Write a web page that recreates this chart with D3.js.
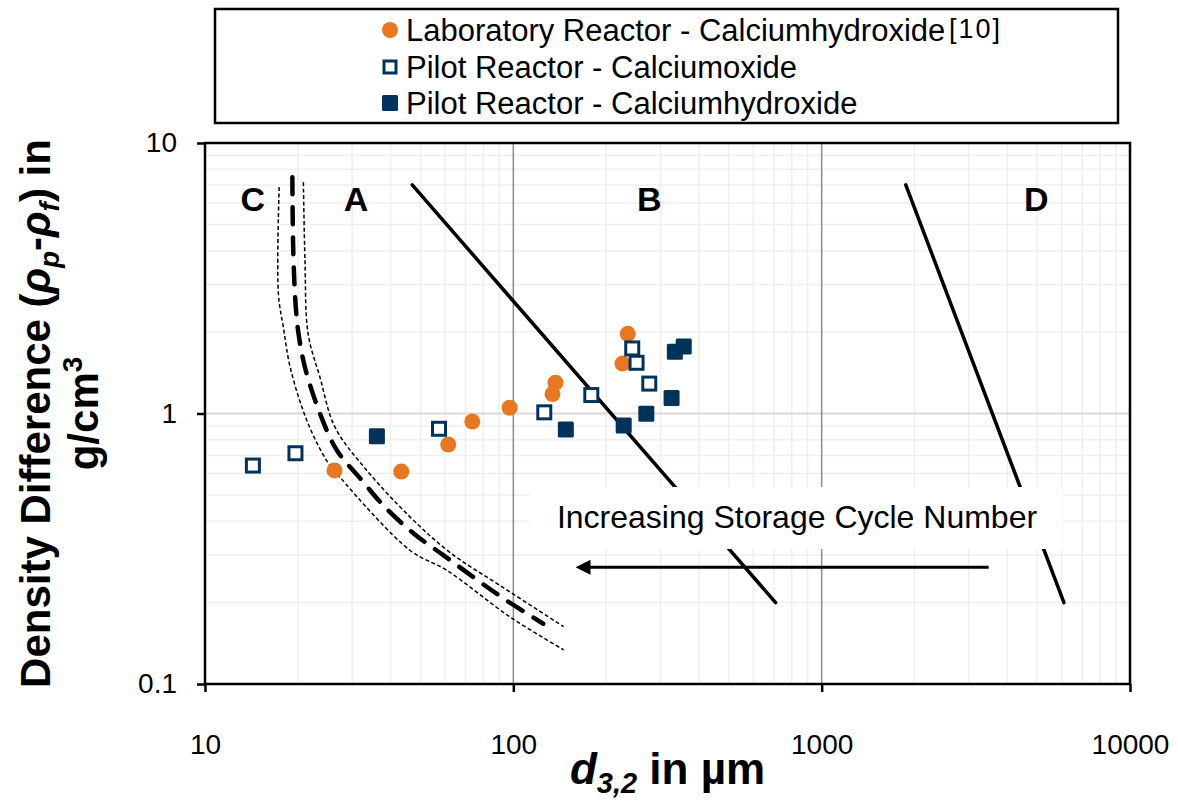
<!DOCTYPE html>
<html>
<head>
<meta charset="utf-8">
<script src="https://cdn.jsdelivr.net/npm/d3@7"></script>
<style>
  body { margin: 0; background: #fff; }
  text { font-family: "Liberation Sans", Arial, sans-serif; }
</style>
</head>
<body>
<div id="chart"></div>
<script>
// Data

// Laboratory Reactor - Calciumhydroxide
var labX = [26.3, 43.3, 61.5, 73.6, 97.3, 134, 137, 226, 235];
var labY = [0.616, 0.610, 0.768, 0.934, 1.05, 1.18, 1.30, 1.53, 1.97];

// Pilot Reactor - Calciumoxide
var oxX = [14.3, 19.65, 57.4, 126, 179, 243, 251, 276];
var oxY = [0.642, 0.713, 0.878, 1.01, 1.17, 1.74, 1.54, 1.29];

// Pilot Reactor - Calciumhydroxide
var hydX = [36.1, 148, 228, 270, 326, 334, 357];
var hydY = [0.824, 0.873, 0.903, 0.997, 1.14, 1.69, 1.77];

// C/A boundary (thick dashed) and its band (thin dotted)
var midX = [19.2, 19.34, 19.7, 20.1, 21.1, 23.6, 26.8, 31.9, 37.9, 47.5, 59.4, 74.3, 93, 125];
var midY = [7.47, 3.9, 2.47, 1.98, 1.48, 1.0, 0.73, 0.575, 0.457, 0.36, 0.299, 0.248, 0.207, 0.167];
var lowX = [17.4, 17.3, 17.96, 18.9, 21.4, 24.8, 27.4, 46.3, 60.9, 97.8, 145.6];
var lowY = [6.87, 2.77, 2.08, 1.48, 0.942, 0.67, 0.581, 0.3115, 0.263, 0.1766, 0.1338];
var highX = [20.85, 21.1, 21.6, 23.6, 26.4, 33.5, 46.3, 62.4, 90.7, 145.6];
var highY = [7.16, 3.68, 1.97, 1.36, 0.89, 0.616, 0.414, 0.306, 0.231, 0.163];

// A/B and B/D boundaries (straight lines)
var abX = [47, 709];
var abY = [7, 0.2];
var bdX = [1874, 6106];
var bdY = [7, 0.2];

// region letters
var regionNames = ["C", "A", "B", "D"];
var regionX = [14.3, 30.9, 276, 4970];
var regionY = [5.6, 5.6, 5.6, 5.6];

// arrow for cycle number
var arrowX = [3480, 174];
var arrowY = [0.27, 0.27];

// ticks
var xTicks = [10, 100, 1000, 10000];
var yTicks = [0.1, 1, 10];
var xTickLabels = ["10", "100", "1000", "10000"];
var yTickLabels = ["0.1", "1", "10"];

var legendNames = ["Laboratory Reactor - Calciumhydroxide", "Pilot Reactor - Calciumoxide", "Pilot Reactor - Calciumhydroxide"];

var orange = "#E87722";
var navy = "#003359";

// SVG set up
var svgWidth = 1178;
var svgHeight = 801;

var margin = { top: 143, right: 48, bottom: 117, left: 205 };
var width = svgWidth - margin.left - margin.right;
var height = svgHeight - margin.top - margin.bottom;

var svg = d3.select("#chart")
  .append("svg")
  .attr("width", svgWidth)
  .attr("height", svgHeight);

var chartGroup = svg.append("g")
  .attr("transform", `translate(${margin.left}, ${margin.top})`);

// scales
var xScale = d3.scaleLog().domain([10, 10000]).range([0, width]);
var yScale = d3.scaleLog().domain([0.1, 10]).range([height, 0]);

// minor grid
var minorX = [];
[10, 100, 1000].forEach(function(dec) {
  for (var k = 2; k <= 9; k++) minorX.push(dec * k);
});
var minorY = [];
[0.1, 1].forEach(function(dec) {
  for (var k = 2; k <= 9; k++) minorY.push(dec * k);
});

chartGroup.append("g").selectAll("line")
  .data(minorX)
  .enter()
  .append("line")
  .attr("x1", d => xScale(d)).attr("x2", d => xScale(d))
  .attr("y1", 0).attr("y2", height)
  .attr("stroke", "#efefef").attr("stroke-width", 1.5);

chartGroup.append("g").selectAll("line")
  .data(minorY)
  .enter()
  .append("line")
  .attr("y1", d => yScale(d)).attr("y2", d => yScale(d))
  .attr("x1", 0).attr("x2", width)
  .attr("stroke", "#efefef").attr("stroke-width", 1.5);

// major grid
chartGroup.append("line")
  .attr("x1", 0).attr("x2", width)
  .attr("y1", yScale(1)).attr("y2", yScale(1))
  .attr("stroke", "#d9d9d9").attr("stroke-width", 2);

chartGroup.append("g").selectAll("line")
  .data([100, 1000])
  .enter()
  .append("line")
  .attr("x1", d => xScale(d)).attr("x2", d => xScale(d))
  .attr("y1", 0).attr("y2", height)
  .attr("stroke", "#8c8c8c").attr("stroke-width", 1.5);

// axes
var bottomAxis = d3.axisBottom(xScale)
  .tickValues(xTicks)
  .tickFormat((d, i) => xTickLabels[i])
  .tickSize(8)
  .tickPadding(42);
var leftAxis = d3.axisLeft(yScale)
  .tickValues(yTicks)
  .tickFormat((d, i) => yTickLabels[i])
  .tickSize(8)
  .tickPadding(20);

var xAxisG = chartGroup.append("g")
  .attr("transform", `translate(0, ${height})`)
  .call(bottomAxis);
var yAxisG = chartGroup.append("g")
  .call(leftAxis);

[xAxisG, yAxisG].forEach(function(g) {
  g.select(".domain").remove();
  g.selectAll(".tick line").attr("stroke", "#000").attr("stroke-width", 2.5);
  g.selectAll(".tick text")
    .attr("fill", "#000")
    .style("font-size", "28px")
    .style("font-family", "Liberation Sans, Arial, sans-serif");
});

// plot frame
chartGroup.append("rect")
  .attr("x", 0).attr("y", 0)
  .attr("width", width).attr("height", height)
  .attr("fill", "none")
  .attr("stroke", "#000")
  .attr("stroke-width", 2.5);

// boundary curves
var line = d3.line()
  .x(d => xScale(d[0]))
  .y(d => yScale(d[1]))
  .curve(d3.curveCatmullRom);

function pairs(xs, ys) {
  return xs.map((x, i) => [x, ys[i]]);
}

chartGroup.append("path")
  .datum(pairs(lowX, lowY))
  .attr("d", line)
  .attr("fill", "none").attr("stroke", "#000")
  .attr("stroke-width", 1.5).attr("stroke-dasharray", "4,2.5");

chartGroup.append("path")
  .datum(pairs(highX, highY))
  .attr("d", line)
  .attr("fill", "none").attr("stroke", "#000")
  .attr("stroke-width", 1.5).attr("stroke-dasharray", "4,2.5");

chartGroup.append("path")
  .datum(pairs(midX, midY))
  .attr("d", line)
  .attr("fill", "none").attr("stroke", "#000")
  .attr("stroke-width", 4.5).attr("stroke-linecap", "round")
  .attr("stroke-dasharray", "17,13");

var straight = d3.line()
  .x(d => xScale(d[0]))
  .y(d => yScale(d[1]));

[pairs(abX, abY), pairs(bdX, bdY)].forEach(function(p) {
  chartGroup.append("path")
    .datum(p)
    .attr("d", straight)
    .attr("fill", "none").attr("stroke", "#000")
    .attr("stroke-width", 3.5).attr("stroke-linecap", "round");
});

// region letters
chartGroup.selectAll(".region")
  .data(regionNames)
  .enter()
  .append("text")
  .attr("class", "region")
  .attr("x", (d, i) => xScale(regionX[i]))
  .attr("y", (d, i) => yScale(regionY[i]))
  .attr("text-anchor", "middle")
  .style("font-size", "34px")
  .style("font-weight", "bold")
  .text(d => d);

// annotation box + arrow
chartGroup.append("rect")
  .attr("x", 530 - margin.left).attr("y", 487 - margin.top)
  .attr("width", 532).attr("height", 62)
  .attr("fill", "#fff");

chartGroup.append("text")
  .attr("x", 797 - margin.left).attr("y", 528 - margin.top)
  .attr("text-anchor", "middle")
  .style("font-size", "32px")
  .text("Increasing Storage Cycle Number");

svg.append("defs").append("marker")
  .attr("id", "head")
  .attr("viewBox", "0 0 10 10")
  .attr("refX", 2).attr("refY", 5)
  .attr("markerWidth", 5).attr("markerHeight", 5)
  .attr("orient", "auto")
  .append("path")
  .attr("d", "M0,0 L10,5 L0,10 z")
  .attr("fill", "#000");

chartGroup.append("path")
  .datum(pairs(arrowX, arrowY))
  .attr("d", straight)
  .attr("fill", "none").attr("stroke", "#000")
  .attr("stroke-width", 3)
  .attr("marker-end", "url(#head)");

// points
chartGroup.append("g").selectAll("circle")
  .data(pairs(labX, labY))
  .enter()
  .append("circle")
  .attr("cx", d => xScale(d[0]))
  .attr("cy", d => yScale(d[1]))
  .attr("r", 8)
  .attr("fill", orange);

var sq = 16;
chartGroup.append("g").selectAll("rect")
  .data(pairs(oxX, oxY))
  .enter()
  .append("rect")
  .attr("x", d => xScale(d[0]) - (sq - 3) / 2)
  .attr("y", d => yScale(d[1]) - (sq - 3) / 2)
  .attr("width", sq - 3).attr("height", sq - 3)
  .attr("fill", "#fff").attr("stroke", navy).attr("stroke-width", 3);

chartGroup.append("g").selectAll("rect")
  .data(pairs(hydX, hydY))
  .enter()
  .append("rect")
  .attr("x", d => xScale(d[0]) - sq / 2)
  .attr("y", d => yScale(d[1]) - sq / 2)
  .attr("width", sq).attr("height", sq)
  .attr("rx", 1.5)
  .attr("fill", navy);

// axis titles
var xTitle = svg.append("text")
  .attr("x", margin.left + width / 2)
  .attr("y", 784)
  .attr("text-anchor", "middle")
  .style("font-size", "44px")
  .style("font-weight", "bold");
xTitle.append("tspan").style("font-style", "italic").text("d");
xTitle.append("tspan").style("font-style", "italic").style("font-size", "29px").attr("dy", 9).text("3,2");
xTitle.append("tspan").attr("dy", -9).text(" in µm");

var yTitle = svg.append("text")
  .attr("transform", `translate(50, ${margin.top + height / 2}) rotate(-90)`)
  .attr("text-anchor", "middle")
  .style("font-size", "42px")
  .style("font-weight", "bold");
yTitle.append("tspan").text("Density Difference (");
yTitle.append("tspan").style("font-style", "italic").text("ρ");
yTitle.append("tspan").style("font-style", "italic").style("font-size", "28px").attr("dy", 9).text("p");
yTitle.append("tspan").attr("dy", -9).text("-");
yTitle.append("tspan").style("font-style", "italic").text("ρ");
yTitle.append("tspan").style("font-style", "italic").style("font-size", "28px").attr("dy", 9).text("f");
yTitle.append("tspan").attr("dy", -9).text(") in");

var yTitle2 = svg.append("text")
  .attr("transform", `translate(98, ${margin.top + height / 2}) rotate(-90)`)
  .attr("text-anchor", "middle")
  .style("font-size", "42px")
  .style("font-weight", "bold");
yTitle2.append("tspan").text("g/cm");
yTitle2.append("tspan").style("font-size", "28px").attr("dy", -16).text("3");

// legend
var legend = svg.append("g");
legend.append("rect")
  .attr("x", 215).attr("y", 9)
  .attr("width", 903).attr("height", 114)
  .attr("fill", "#fff").attr("stroke", "#000").attr("stroke-width", 2.5);

var rowY = [30, 67, 103];
legend.append("circle")
  .attr("cx", 390).attr("cy", rowY[0]).attr("r", 8).attr("fill", orange);
legend.append("rect")
  .attr("x", 384).attr("y", rowY[1] - 6).attr("width", 12).attr("height", 12)
  .attr("fill", "#fff").attr("stroke", navy).attr("stroke-width", 3);
legend.append("rect")
  .attr("x", 382).attr("y", rowY[2] - 8).attr("width", 16).attr("height", 16)
  .attr("rx", 1.5).attr("fill", navy);

legend.selectAll(".legtext")
  .data(legendNames)
  .enter()
  .append("text")
  .attr("class", "legtext")
  .attr("x", 406)
  .attr("y", (d, i) => rowY[i] + 11)
  .style("font-size", "31px")
  .text(d => d);

legend.append("text")
  .attr("x", 949).attr("y", rowY[0] + 8)
  .style("font-size", "27px")
  .style("letter-spacing", "2px")
  .text("[10]");
</script>
</body>
</html>
